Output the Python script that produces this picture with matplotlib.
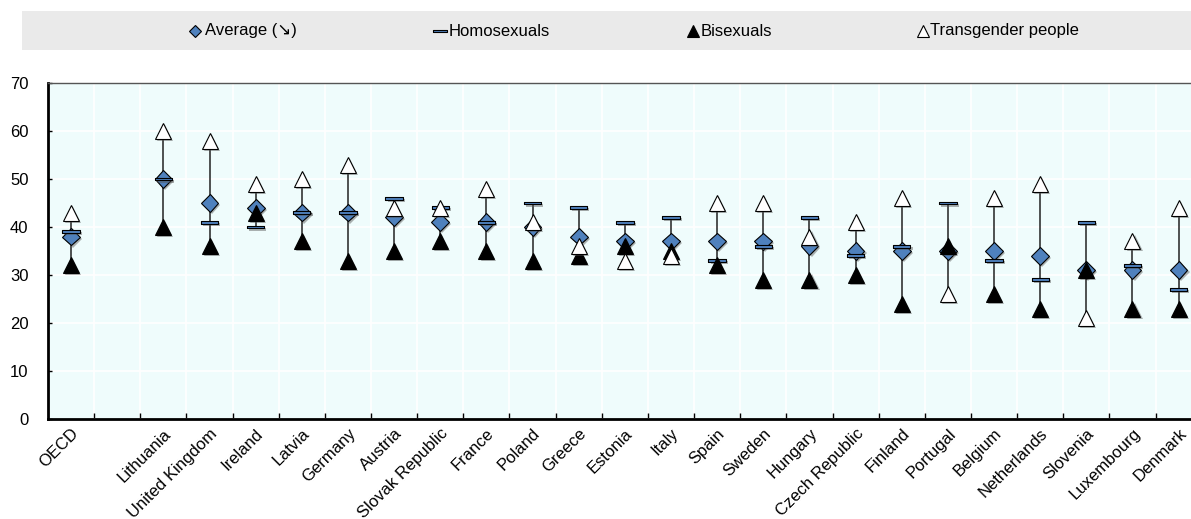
import numpy as np
import matplotlib.pyplot as plt
import matplotlib.patheffects as pe
from matplotlib.lines import Line2D
from matplotlib.patches import Rectangle

plt.rcParams['font.family'] = ['Liberation Sans', 'DejaVu Sans']

# Data
countries = ['OECD', '', 'Lithuania', 'United Kingdom', 'Ireland', 'Latvia', 'Germany',
             'Austria', 'Slovak Republic', 'France', 'Poland', 'Greece', 'Estonia', 'Italy',
             'Spain', 'Sweden', 'Hungary', 'Czech Republic', 'Finland', 'Portugal', 'Belgium',
             'Netherlands', 'Slovenia', 'Luxembourg', 'Denmark']
average = [38, np.nan, 50, 45, 44, 43, 43, 42, 41, 41, 40, 38, 37, 37, 37, 37, 36, 35, 35,
           35, 35, 34, 31, 31, 31]
homosexuals = [39, np.nan, 50, 41, 40, 43, 43, 46, 44, 41, 45, 44, 41, 42, 33, 36, 42, 34,
               36, 45, 33, 29, 41, 32, 27]
bisexuals = [32, np.nan, 40, 36, 43, 37, 33, 35, 37, 35, 33, 34, 36, 35, 32, 29, 29, 30, 24,
             36, 26, 23, 31, 23, 23]
transgender = [43, np.nan, 60, 58, 49, 50, 53, 44, 44, 48, 41, 36, 33, 34, 45, 45, 38, 41,
               46, 26, 46, 49, 21, 37, 44]

blue = '#4F81BD'
bar_marker = [(-1, -0.17), (1, -0.17), (1, 0.17), (-1, 0.17), (-1, -0.17)]
shadow = [pe.SimplePatchShadow(offset=(1.5, -1.5), shadow_rgbFace='#555555', alpha=0.45),
          pe.Normal()]

fig = plt.figure(figsize=(11.91, 5.19), dpi=100)
ax = fig.add_axes([48 / 1191, 1 - 419 / 519, 1153.7 / 1191, 336 / 519])
ax.set_facecolor('#EFFCFC')

x = np.arange(len(countries))
groups = np.array([homosexuals, bisexuals, transgender], dtype=float)
lo = np.nanmin(groups, axis=0, initial=np.inf, where=~np.isnan(groups))
hi = np.nanmax(groups, axis=0, initial=-np.inf, where=~np.isnan(groups))
ok = np.isfinite(lo)
ax.vlines(x[ok], lo[ok], hi[ok], color='#222222', lw=1.1, zorder=2)

ax.plot(x, average, ls='none', marker='D', ms=9, mfc=blue, mec='black', mew=0.8,
        zorder=3, path_effects=shadow)
ax.plot(x, homosexuals, ls='none', marker=bar_marker, ms=12.5, mfc=blue, mec='black',
        mew=0.8, zorder=4, path_effects=shadow)
ax.plot(x, bisexuals, ls='none', marker='^', ms=11.5, mfc='black', mec='black', mew=0.8,
        zorder=5, path_effects=shadow)
ax.plot(x, transgender, ls='none', marker='^', ms=11.5, mfc='white', mec='black', mew=0.8,
        zorder=6, path_effects=shadow)

ax.set_xlim(-0.5, len(countries) - 0.5)
ax.set_ylim(0, 70)
ax.set_yticks(range(0, 71, 10))
ax.set_xticks(x)
ax.set_xticklabels(countries, rotation=45, ha='right', rotation_mode='anchor', fontsize=12)
ax.set_xticks(np.arange(0.5, len(countries) - 1, 1), minor=True)
ax.tick_params(axis='x', which='major', length=0, pad=5)
ax.tick_params(axis='x', which='minor', direction='in', length=4, width=1, color='black')
ax.tick_params(axis='y', direction='in', length=3, width=1, pad=14, labelsize=12)

ax.grid(True, axis='y', color='white', lw=1.2, zorder=0)
ax.grid(True, axis='x', which='minor', color='white', lw=1.2, zorder=0)
ax.set_axisbelow(True)

for s in ['left', 'bottom']:
    ax.spines[s].set_linewidth(2)
    ax.spines[s].set_color('black')
ax.spines['top'].set_color('#555555')
ax.spines['top'].set_linewidth(1)
ax.spines['right'].set_visible(False)

# Legend band
fig.add_artist(Rectangle((22 / 1191, 1 - 50 / 519), 1, 39 / 519, transform=fig.transFigure,
                         facecolor='#EAEAEA', edgecolor='none', zorder=0))
ly = 1 - 31 / 519
legend_items = [
    (195, 205, 'D', 6.5, blue, 'Average (↘)'),
    (440, 449, bar_marker, 10, blue, 'Homosexuals'),
    (693, 701, '^', 8, 'black', 'Bisexuals'),
    (923, 930, '^', 8, 'white', 'Transgender people'),
]
for mx, tx, mk, size, fc, label in legend_items:
    fig.add_artist(Line2D([mx / 1191], [ly], transform=fig.transFigure, ls='none', marker=mk,
                          ms=size, mfc=fc, mec='black', mew=0.8))
    fig.text(tx / 1191, ly, label, ha='left', va='center', fontsize=12)

fig.savefig('out.png', dpi=100)
